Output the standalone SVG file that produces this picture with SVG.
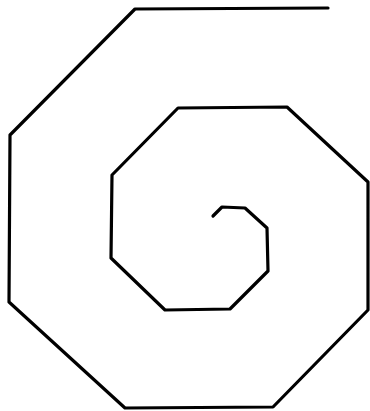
<svg xmlns="http://www.w3.org/2000/svg" width="370" height="411" viewBox="0 0 370 411">
<style>.s{fill:none;stroke:#000;stroke-width:3.2;stroke-linejoin:round;stroke-linecap:round}</style>
<rect width="370" height="411" fill="#fff"/>
<path class="s" d="M328,8 L135,9 L10,135 L9,302 L125,408 L273,407 L368,310 L368,182 L287,107 L178,108 L112,175 L111,258 L165,310 L230,309 L268,271 L267,228 L245,208 L222,207 L213,216"/>
</svg>
